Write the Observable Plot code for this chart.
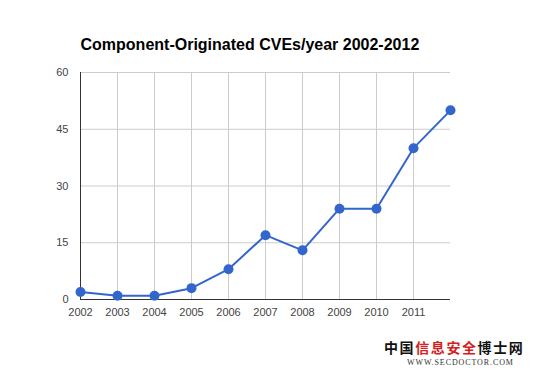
<!DOCTYPE html>
<html>
<head>
<meta charset="utf-8">
<script src="https://cdn.jsdelivr.net/npm/d3@7"></script>
<script src="https://cdn.jsdelivr.net/npm/@observablehq/plot@0.6"></script>
<style>
  html, body { margin: 0; padding: 0; background: #fff; }
  #wrap { position: relative; width: 534px; height: 371px; overflow: hidden; }
  .wm1 { position: absolute; left: 384px; top: 339px; font-family: "Noto Sans CJK SC"; font-weight: 700; font-size: 14px; line-height: 16px; letter-spacing: 1.6px; color: #111; white-space: nowrap; }
  .wm1 .r { color: #d42020; }
  .wm2 { position: absolute; left: 407px; top: 358px; font-family: "Liberation Serif", serif; font-size: 8px; line-height: 9px; color: #333; letter-spacing: 0.9px; white-space: nowrap; }
</style>
</head>
<body>
<div id="wrap">
  <div id="chart"></div>
  <div class="wm1">中国<span class="r">信息安全</span>博士网</div>
  <div class="wm2">WWW.SECDOCTOR.COM</div>
</div>
<script>
const title = "Component-Originated CVEs/year 2002-2012";
const years = [2002, 2003, 2004, 2005, 2006, 2007, 2008, 2009, 2010, 2011, 2012];
const cves = [2, 1, 1, 3, 8, 17, 13, 24, 24, 40, 50];
const xTicks = [2002, 2003, 2004, 2005, 2006, 2007, 2008, 2009, 2010, 2011];
const yTicks = [0, 15, 30, 45, 60];

const data = years.map((y, i) => ({year: y, value: cves[i]}));

const chart = Plot.plot({
  width: 534,
  height: 371,
  marginLeft: 80,
  marginRight: 84,
  marginTop: 72,
  marginBottom: 72,
  style: {fontFamily: "Liberation Sans, Arial, sans-serif", fontSize: "11px", color: "#444", background: "#fff"},
  x: {domain: [2002, 2012], ticks: xTicks, tickFormat: d => String(d), label: null, tickSize: 0, tickPadding: 9},
  y: {domain: [0, 60], ticks: yTicks, label: null, tickSize: 0, tickPadding: 12},
  marks: [
    Plot.gridX(xTicks, {stroke: "#ccc", strokeOpacity: 1}),
    Plot.gridY(yTicks, {stroke: "#ccc", strokeOpacity: 1}),
    Plot.ruleX([2002], {stroke: "#333", strokeWidth: 1}),
    Plot.ruleY([0], {stroke: "#333", strokeWidth: 1}),
    Plot.line(data, {x: "year", y: "value", stroke: "#3366cc", strokeWidth: 2}),
    Plot.dot(data, {x: "year", y: "value", fill: "#3366cc", r: 5}),
    Plot.text([title], {frameAnchor: "top-left", textAnchor: "start", dy: -34, text: d => d, fontSize: 16, fontWeight: "bold", fill: "#000"})
  ]
});
document.getElementById("chart").appendChild(chart);
</script>
</body>
</html>
